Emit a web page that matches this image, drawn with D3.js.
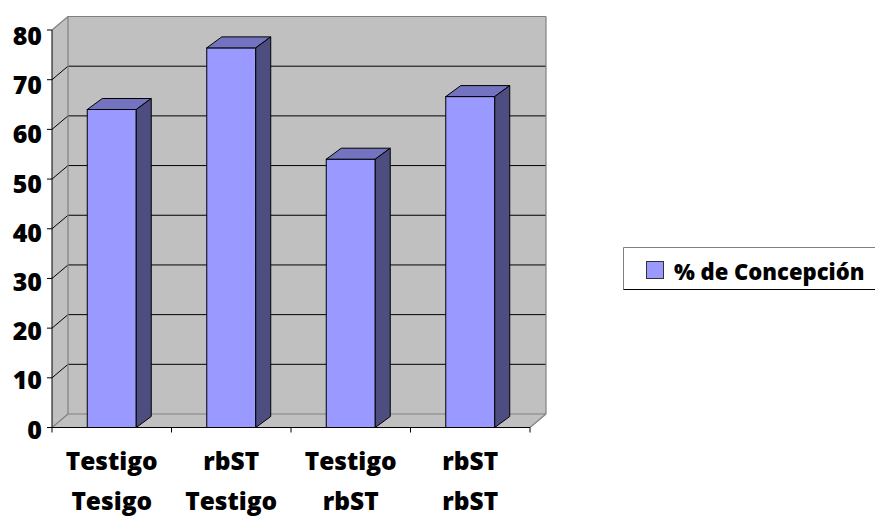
<!DOCTYPE html>
<html>
<head>
<meta charset="utf-8">
<script src="https://cdn.jsdelivr.net/npm/d3@7"></script>
<style>
  html, body { margin: 0; padding: 0; background: #fff; }
  svg { display: block; }
  text { font-family: "Open Sans", "Lato", sans-serif; font-weight: 800; fill: #000; }
</style>
</head>
<body>
<svg id="chart" width="875" height="516"></svg>
<script>
// Conception rate by treatment combination
const categories = [
  ["Testigo", "Tesigo"],
  ["rbST", "Testigo"],
  ["Testigo", "rbST"],
  ["rbST", "rbST"]
];
const values = [64, 76.4, 54, 66.6];
const yTicks = [0, 10, 20, 30, 40, 50, 60, 70, 80];
const seriesName = "% de Concepción";

const svg = d3.select("#chart");

// Front plane of the 3D box and its depth offset
const X0 = 52, X1 = 530;
const DX = 16, DY = -13.5;   // wall depth
const BDX = 15, BDY = -11;   // column depth

const y = d3.scaleLinear().domain([0, 80]).range([427.5, 30]);
const yLabel = d3.scaleLinear().domain([0, 80]).range([428.5, 35]);
const x = d3.scaleBand()
  .domain(d3.range(categories.length))
  .range([X0, X1])
  .paddingInner(0.59)
  .paddingOuter(0.295);

const wallFill = "#c0c0c0", edge = "#808080";
const y0 = y(0), yT = y(80);

// Walls and floor
const g = svg.append("g");
g.append("polygon") // back wall
  .attr("points", [[X0 + DX, yT + DY], [X1 + DX, yT + DY], [X1 + DX, y0 + DY], [X0 + DX, y0 + DY]].join(" "))
  .attr("fill", wallFill);
g.append("polygon") // side wall
  .attr("points", [[X0, yT], [X0 + DX, yT + DY], [X0 + DX, y0 + DY], [X0, y0]].join(" "))
  .attr("fill", wallFill);
g.append("polygon") // floor
  .attr("points", [[X0, y0], [X0 + DX, y0 + DY], [X1 + DX, y0 + DY], [X1, y0]].join(" "))
  .attr("fill", wallFill);

// Gridlines on back and side walls
const inner = yTicks.filter(t => t > 0 && t < 80);
g.selectAll(".grid-back").data(inner).join("line")
  .attr("x1", X0 + DX).attr("x2", X1 + DX)
  .attr("y1", d => y(d) + DY).attr("y2", d => y(d) + DY)
  .attr("stroke", "#000").attr("stroke-width", 1);
g.selectAll(".grid-side").data(inner).join("line")
  .attr("x1", X0).attr("x2", X0 + DX)
  .attr("y1", d => y(d)).attr("y2", d => y(d) + DY)
  .attr("stroke", "#000").attr("stroke-width", 1);

// Box edges
const edges = [
  [[X0 + DX, yT + DY], [X1 + DX, yT + DY]],
  [[X1 + DX, yT + DY], [X1 + DX, y0 + DY]],
  [[X0 + DX, yT + DY], [X0 + DX, y0 + DY]],
  [[X0 + DX, y0 + DY], [X1 + DX, y0 + DY]],
  [[X0, yT], [X0 + DX, yT + DY]],
  [[X0, y0], [X0 + DX, y0 + DY]],
  [[X1, y0], [X1 + DX, y0 + DY]]
];
g.selectAll(".edge").data(edges).join("line")
  .attr("x1", d => d[0][0]).attr("y1", d => d[0][1])
  .attr("x2", d => d[1][0]).attr("y2", d => d[1][1])
  .attr("stroke", edge).attr("stroke-width", 1.2);

// Columns
const bars = svg.append("g").selectAll("g").data(values).join("g");
bars.append("rect")
  .attr("x", (d, i) => x(i)).attr("y", d => y(d))
  .attr("width", x.bandwidth()).attr("height", d => y0 - y(d))
  .attr("fill", "#9999ff").attr("stroke", "#000").attr("stroke-width", 1);
bars.append("polygon")
  .attr("points", (d, i) => {
    const l = x(i), r = l + x.bandwidth(), t = y(d);
    return [[l, t], [r, t], [r + BDX, t + BDY], [l + BDX, t + BDY]].join(" ");
  })
  .attr("fill", "#7373c0").attr("stroke", "#000").attr("stroke-width", 1);
bars.append("polygon")
  .attr("points", (d, i) => {
    const r = x(i) + x.bandwidth(), t = y(d);
    return [[r, t], [r + BDX, t + BDY], [r + BDX, y0 + BDY], [r, y0]].join(" ");
  })
  .attr("fill", "#4d4d80").attr("stroke", "#000").attr("stroke-width", 1);

// Axes
const ax = svg.append("g");
ax.append("line").attr("x1", X0).attr("x2", X0).attr("y1", yT).attr("y2", y0)
  .attr("stroke", "#000").attr("stroke-width", 1);
ax.append("line").attr("x1", X0).attr("x2", X1).attr("y1", y0).attr("y2", y0)
  .attr("stroke", "#000").attr("stroke-width", 1);
ax.selectAll(".yt").data(yTicks).join("line")
  .attr("x1", X0 - 5).attr("x2", X0).attr("y1", d => y(d)).attr("y2", d => y(d))
  .attr("stroke", "#000");
const bounds = d3.range(categories.length + 1).map(i => X0 + i * x.step());
ax.selectAll(".xt").data(bounds).join("line")
  .attr("x1", d => d).attr("x2", d => d).attr("y1", y0).attr("y2", y0 + 5)
  .attr("stroke", "#000");

ax.selectAll(".yl").data(yTicks).join("text")
  .attr("x", 42).attr("y", d => yLabel(d))
  .attr("text-anchor", "end").attr("dominant-baseline", "central")
  .style("font-size", "25px")
  .text(d => d);

const cl = ax.selectAll(".cl").data(categories).join("text")
  .attr("text-anchor", "middle")
  .style("font-size", "24.5px");
cl.each(function (d, i) {
  const cx = x(i) + x.bandwidth() / 2;
  d3.select(this).selectAll("tspan").data(d).join("tspan")
    .attr("x", cx).attr("y", (s, j) => 470 + j * 40)
    .text(s => s);
});

// Legend
const lg = svg.append("g");
lg.append("rect").attr("x", 623.5).attr("y", 247.5).attr("width", 260).attr("height", 42)
  .attr("fill", "#fff").attr("stroke", "none");
lg.append("line").attr("x1", 623.5).attr("x2", 875).attr("y1", 247.5).attr("y2", 247.5).attr("stroke", edge);
lg.append("line").attr("x1", 623.5).attr("x2", 623.5).attr("y1", 247.5).attr("y2", 289.5).attr("stroke", edge);
lg.append("line").attr("x1", 623.5).attr("x2", 875).attr("y1", 289.5).attr("y2", 289.5).attr("stroke", "#000");
lg.append("rect").attr("x", 646.5).attr("y", 261.5).attr("width", 17).attr("height", 17)
  .attr("fill", "#9999ff").attr("stroke", "#333").attr("stroke-width", 1);
lg.append("text").attr("x", 674).attr("y", 280)
  .style("font-size", "22px")
  .text(seriesName);
</script>
</body>
</html>
